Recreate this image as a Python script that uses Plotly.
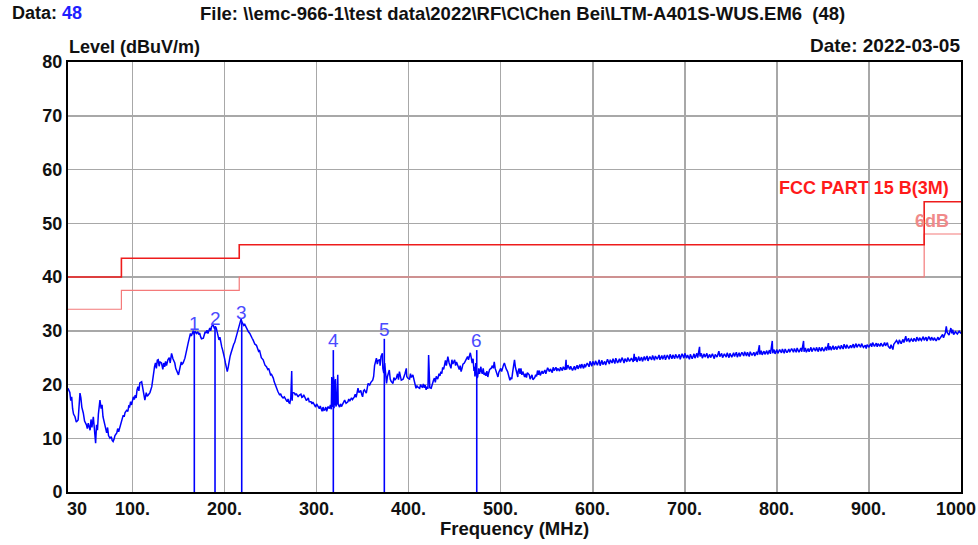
import plotly.graph_objects as go

# ---------------- data ----------------
trace_points = [
(30,19.3),(32,18.5),(33,17.0),(34,17.7),(35,15.5),(36,14.5),(37.6,14.0),(39,13.0),(41,13.4),(42,16.5),(43,18.4),(44,17.5),(45,15.8),(46.6,14.7),(48,13.2),(50,12.5),(51,11.8),(52,12.8),(54,11.5),(55,13.5),(56,12.0),(57.5,14.0),(58.5,12.0),(60,9.1),(61,12.5),(62,11.5),(63,14.5),(64.7,17.1),(66,15.5),(67,16.2),(68,14.0),(69,13.2),(70,12.0),(72,11.0),(73,12.0),(74,10.5),(75.6,10.0),(77,10.3),(78,9.6),(79,9.4),(80,9.8),(81,10.5),(83,11.0),(84,11.8),(85,11.2),(86.4,12.2),(88,13.0),(90,14.3),(91,14.0),(92,14.8),(93.7,15.2),(95,15.0),(96,16.0),(97,15.9),(98,16.8),(99,16.2),
(101,17.7),(102,17.2),(103,18.0),(104,17.5),(105,19.0),(106,19.6),(107,18.8),(108,20.3),(110,20.5),(111,19.5),(112,18.6),(113.5,17.1),(115,18.5),(116,17.8),(117,18.0),(119,18.5),(121,19.6),(122,21.0),(123,22.0),(124,23.3),(125,24.0),(126,23.0),(127,24.5),(128,24.6),(129,23.4),(130,24.2),(131.6,24.0),(133,22.8),(134,24.0),(135,23.3),(136,24.3),(137,23.5),(138.5,24.6),(140,25.0),(141,24.0),(142.5,25.8),(144,24.8),(145,24.3),(146,24.0),(147,23.0),(148,22.5),(149,22.0),(150,21.8),(151,22.6),(152,23.5),(153,24.2),(154,23.8),(155,24.0),(157,24.9),(158,25.5),(159,26.5),(160.5,27.7),(162,28.8),(163,29.5),(164,29.0),(165,29.8),(166,30.0),(167,29.3),(168,29.9),(169.6,29.5),(171,29.8),(172,29.3),(173,29.6),(174,28.9),(175,28.5),(177,28.6),(178,29.4),(179,29.8),(180,29.6),(181,30.1),(182,29.5),(184,30.5),(185,30.0),(186,30.8),(187.6,31.1),(189,30.4),(190,30.8),(191,30.5),(192,29.8),(193,28.8),(194,28.3),(195,28.8),(196,27.5),(197,27.0),(198,26.4),(199,25.8),
(200,24.9),(201,24.0),(202,23.0),(203,22.4),(204,23.2),(205,24.5),(206,25.2),(207,25.8),(208,26.5),(209,27.0),(210,27.5),(211,27.8),(212,28.5),(213,28.9),(214,29.8),(215,30.6),(216.6,31.7),(218,32.2),(219,31.6),(220,31.4),(221,31.0),(222,31.2),(224,30.5),(225,30.0),(226,29.8),(227.5,29.5),(229,28.8),(230,28.6),(231,28.3),(232,27.9),(233,27.5),(234.7,27.3),(236,26.8),(237,26.2),(238,26.4),(239,25.6),(240,25.0),(242,24.6),(243,24.0),(244,23.6),(245.6,23.3),(247,22.8),(248,23.0),(249,22.4),(250,21.8),(251,21.9),(253,21.2),(254,20.5),(255,20.0),(256,19.6),(257,19.2),(258,18.7),(260,18.0),(261,18.3),(262,17.8),(263.6,17.5),(265,17.7),(266,17.2),(267,17.1),(268,16.8),(269,17.3),(270,16.6),(271,16.5),(272,17.5),(273,22.5),(273.5,17.0),(274,18.5),(276,18.4),(277,18.0),(278,18.3),(280,17.7),(281,18.0),(283,18.2),(284,17.6),(285,17.7),(286,18.1),(288,17.5),(289,17.0),(291,17.5),(292,16.8),(294,16.8),(295,16.4),(296,16.7),(298,16.2),(299,15.8),
(300,16.4),(301.6,15.9),(303,15.5),(304,16.0),(305,15.6),(306,15.0),(307,15.8),(308,15.2),(309,15.3),(310,15.8),(311,15.0),(312.5,15.9),(314,15.5),(315,16.2),(316,15.4),(316.5,21.4),(317,15.8),(317.5,21.2),(318,16.0),(318.5,21.5),(319,15.6),(319.5,20.8),(320,16.2),(320.5,21.0),(321,15.9),(322,16.5),(323,21.8),(323.5,16.3),(325,15.8),(326,16.4),(327,15.9),(329,16.6),(330.5,17.1),(332,16.5),(334,16.8),(335,17.3),(336,16.9),(338,17.5),(339,17.2),(341,17.7),(342,18.2),(343,17.6),(345,19.3),(346,18.5),(348,18.9),(349,18.2),(350,17.7),(351,18.8),(352,19.0),(354,18.4),(355,19.6),(356,20.2),(357.7,19.9),(359,20.4),(361,20.8),(362,21.5),(363,23.5),(365,24.9),(366,23.8),(367,24.5),(368.6,24.6),(369,23.5),(370,25.2),(371.5,25.8),(372,23.0),(373,22.1),(374,24.0),(375,21.5),(376,20.2),(377,21.5),(378,22.0),(379,22.7),(380,21.0),(381,20.6),(383,20.2),(384,21.3),(385,20.8),(386.6,21.2),(388,22.0),(389,20.9),(390,22.4),(391,21.5),(392,20.8),(394,21.0),(395,21.8),(396,22.0),(397.5,23.0),(398,21.5),(399,21.2),
(401,21.0),(402,22.0),(403,21.3),(404.6,21.8),(406,20.5),(407,20.0),(408,19.3),(409,19.8),(410,19.5),(412,19.3),(413,20.0),(414,19.6),(415,19.5),(416,20.1),(417,19.4),(418,19.9),(419,19.0),(420,19.6),(421,19.2),(421.7,25.5),(422.2,19.6),(423,19.4),(424.5,19.3),(426,20.4),(427,20.8),(428,21.2),(429,20.4),(430,21.5),(431.6,21.0),(433,22.0),(434,21.6),(435,22.4),(436,22.0),(437,23.2),(438,22.8),(439,23.6),(440,24.5),(441,23.5),(442.6,25.2),(444,24.0),(445,23.3),(446,23.0),(447,24.6),(448,23.8),(450,24.6),(451,23.5),(452,24.2),(453.5,23.3),(455,22.8),(456,23.5),(457,22.4),(458,23.0),(459,23.8),(460.5,24.0),(462,24.5),(463,25.0),(464,25.2),(465,24.6),(466,25.5),(467,25.9),(468,25.0),(469,24.0),(470,24.8),(471,22.5),(471.6,23.3),(472,21.5),(473,24.0),(474,21.2),(475,21.4),(476,23.0),(477,22.0),(478.5,23.3),(479,22.5),(480,22.0),(481,23.0),(482,21.8),(483,22.2),(484,21.6),(485,22.5),(486,21.4),(487,22.2),(488,22.8),(489.6,23.0),(491,23.5),(492,23.0),(493,24.2),(494,23.0),(495,22.5),(496,22.0),(497,21.4),(498,22.3),(499,22.8),
(500,23.0),(501,22.4),(502,23.2),(503,23.6),(504,24.0),(505,23.4),(506,22.9),(507.5,22.4),(509,21.6),(510,20.8),(511,21.2),(512,21.0),(513,22.3),(514,23.5),(515,24.6),(516,23.2),(517,22.5),(518.6,21.4),(519,22.5),(520,23.0),(521,22.0),(522,23.0),(523,21.8),(524,22.4),(526,21.4),(527,22.0),(528,21.3),(529,22.2),(531,21.8),(532,21.0),(534,21.8),(535,20.9),(537,21.3),(538,21.8),(539,21.5),(540,22.6),(541,21.8),(542,22.6),(543,21.7),(545,22.5),(546,22.0),(548,22.7),(549,22.0),(550,22.6),(551,23.1),(553,22.4),(554,22.9),(556,22.2),(557,23.2),(558,22.6),(560,23.2),(561,22.5),(562,23.0),(564,22.5),(565,23.2),(567,22.6),(568,23.3),(570,22.7),(571,24.6),(571.5,22.8),(573,23.6),(575,22.8),(576,23.4),(578,22.6),(580,23.4),(581,22.7),(583,23.6),(584,22.9),(586,23.7),(587,23.0),(588,23.8),(590,23.0),(591,23.8),(592,23.2),(594,24.0),(596,23.3),(597,24.3),(599,23.4),
(600,24.3),(602,23.6),(603,24.4),(605,23.6),(607,24.6),(608,23.5),(610,24.5),(611,23.7),(613,24.3),(614,23.6),(616,24.7),(618,23.8),(619,24.6),(621,24.0),(622,24.8),(624,23.9),(625,24.9),(627,24.0),(629,24.8),(630,24.1),(632,25.0),(634,24.0),(635,24.8),(637,24.2),(638,25.0),(640,24.3),(642,24.9),(644,24.2),(645,25.7),(645.5,24.4),(647,25.1),(648,24.2),(650,25.2),(651,24.4),(653,25.1),(654,24.3),(656,25.2),(657,24.5),(659,25.3),(660,24.4),(662,25.2),(664,24.6),(665,25.4),(667,24.5),(668,25.3),(670,24.7),(672,25.5),(673,24.6),(675,25.4),(676,24.7),(678,25.5),(679,24.6),(681,25.5),(683,24.7),(684,25.6),(686,24.8),(687,25.5),(689,24.8),(690,25.6),(692,24.9),(694,25.6),(695,24.7),(697,25.7),(699,24.9),
(700,25.8),(702,24.9),(703,25.5),(705,24.7),(706,25.6),(708,24.8),(710,25.7),(711,24.9),(713,25.8),(714,25.0),(716,27.0),(716.5,25.2),(718,25.8),(719,24.9),(721,25.7),(722,25.1),(724,25.8),(725,24.9),(727,25.6),(728,25.0),(730,25.7),(732,24.8),(733,25.6),(735,25.1),(737,26.2),(738,25.2),(740,25.8),(741,25.0),(743,25.7),(745,25.1),(746,25.9),(748,25.0),(749,25.8),(751,25.1),(753,25.9),(754,25.2),(756,26.0),(757,25.1),(759,25.9),(760,25.2),(762,26.0),(764,25.3),(765,26.1),(767,25.3),(768,26.0),(770,25.2),(771,26.1),(773,25.4),(775,26.0),(776,25.3),(778,26.1),(779,25.5),(781,27.3),(781.5,25.6),(783,26.3),(784,25.5),(786,26.2),(787,25.6),(789,26.3),(790,25.6),(792,26.4),(793,25.7),(795,28.1),(795.5,25.8),(797,26.5),(798,25.7),
(800,26.5),(801,25.8),(803,26.5),(805,25.9),(806,26.6),(808,25.8),(809,26.6),(811,25.9),(813,26.6),(814,26.0),(816,26.7),(818,26.0),(819,26.7),(821,26.0),(822,26.8),(824,26.0),(826,26.8),(827,26.1),(829,28.1),(829.5,26.1),(831,26.8),(832,26.0),(834,26.7),(835,26.1),(837,26.9),(838,26.1),(840,26.8),(842,26.2),(843,26.9),(845,26.1),(846,26.9),(848,26.2),(849,26.9),(851,26.2),(853,27.0),(854,26.3),(856,27.7),(856.5,26.4),(858,27.1),(859,26.4),(861,27.2),(862,26.5),(864,27.1),(865,26.5),(867,27.2),(869,26.6),(870,27.3),(872,26.6),(873,27.5),(875,26.7),(876,27.4),(878,26.7),(880,27.3),(881,26.8),(883,27.5),(884,26.8),(886,27.6),(887,26.9),(889,27.5),(891,26.9),(892,27.6),(894,26.9),(896,27.3),(897,26.7),(898,27.4),
(900,27.0),(902,27.6),(903,27.0),(904,27.8),(906,27.1),(908,27.7),(909,27.0),(910,27.6),(912,27.1),(913,27.7),(915,27.1),(917,27.8),(918,27.2),(920,27.8),(921,27.1),(923,26.7),(924,27.4),(926,26.5),(927,27.5),(929,27.9),(930,28.2),(932,27.5),(933,28.3),(935,27.6),(937,28.4),(938,27.8),(940,29.0),(941,28.0),(943,28.6),(944,27.9),(946,28.5),(948,28.0),(949,28.6),(951,28.0),(952,28.8),(954,28.1),(955,28.7),(957,28.2),(959,28.9),(960,28.2),(962,28.8),(963,28.1),(965,28.9),(967,28.2),(968,28.8),(970,28.2),(971,28.7),(973,28.1),(975,28.8),(976,28.3),(978,28.9),(980,29.3),(981,28.7),(983,29.6),(984,30.8),(985,29.7),(987,29.2),(988,29.9),(989,30.5),(990,29.5),(991,30.2),(992,29.3),(994,29.8),(996,29.4),(998,29.9),(1000,29.5),
]
freq_mhz = [p[0] for p in trace_points]
level_dbuv = [p[1] for p in trace_points]

limit_freq = [30, 88, 216, 960, 1000]
limit_level = [40, 43.5, 46, 54, 54]
margin_level = [34, 37.5, 40, 48, 48]

marker_ids = ["1", "2", "3", "4", "5", "6"]
marker_freq = [167.2, 189.7, 218.7, 318.2, 373.6, 474.0]
marker_level = [29.6, 30.5, 31.6, 26.4, 28.5, 26.4]

x_tick_vals = [30, 100, 200, 300, 400, 500, 600, 700, 800, 900, 1000]
x_tick_text = ["30", "100.", "200.", "300.", "400.", "500.", "600.", "700.", "800.", "900.", "1000"]
y_tick_vals = [0, 10, 20, 30, 40, 50, 60, 70, 80]

# ---------------- layout geometry (page pixels) ----------------
W, H = 978, 545
L, R, T, B = 68, 961, 62, 492  # plot area in page pixels

def px(xp):
    return (xp - L) / (R - L)

def py(yp):
    return (B - yp) / (B - T)

FONT = "Liberation Sans"
TXT = "#111111"

fig = go.Figure()

mx, my = [], []
for f, lv in zip(marker_freq, marker_level):
    mx += [f, f, None]
    my += [0, lv, None]

fig.add_trace(go.Scatter(x=mx, y=my, mode="lines", line=dict(color="#0000ff", width=1.6),
                         hoverinfo="skip", showlegend=False))
fig.add_trace(go.Scatter(x=limit_freq, y=margin_level, mode="lines", line_shape="hv",
                         line=dict(color="#f47a7a", width=1.2), showlegend=False))
fig.add_trace(go.Scatter(x=limit_freq, y=limit_level, mode="lines", line_shape="hv",
                         line=dict(color="#ee1c1c", width=1.6), showlegend=False))
fig.add_trace(go.Scatter(x=freq_mhz, y=level_dbuv, mode="lines",
                         line=dict(color="#0000ff", width=1.5), showlegend=False))

annotations = []
for mid, f, lv in zip(marker_ids, marker_freq, marker_level):
    annotations.append(dict(x=f, y=lv, xref="x", yref="y", text=mid, showarrow=False,
                            xanchor="center", yanchor="bottom", yshift=-3,
                            font=dict(family=FONT, size=19, color="#4b4bff")))

for v, t in zip(x_tick_vals, x_tick_text):
    shift = 0
    if v == 30:
        shift = 9
    elif v == 1000:
        shift = -5
    annotations.append(dict(x=v, y=py(509), xref="x", yref="paper", text=t, showarrow=False,
                            xanchor="center", yanchor="middle", xshift=shift,
                            font=dict(family=FONT, size=18, color=TXT, weight="bold")))

hdr = dict(family=FONT, size=18, color=TXT, weight="bold")
annotations += [
    dict(x=px(10), y=py(13), xref="paper", yref="paper", xanchor="left", yanchor="middle",
         text="Data: <span style='color:#1f1fff'>48</span>", showarrow=False, font=hdr),
    dict(x=px(198), y=py(13), xref="paper", yref="paper", xanchor="left", yanchor="middle",
         text="File: \\\\emc-966-1\\test data\\2022\\RF\\C\\Chen Bei\\LTM-A401S-WUS.EM6  (48)",
         showarrow=False, font=dict(family=FONT, size=18.5, color=TXT, weight="bold")),
    dict(x=px(67), y=py(47), xref="paper", yref="paper", xanchor="left", yanchor="middle",
         text="Level (dBuV/m)", showarrow=False, font=hdr),
    dict(x=px(962), y=py(45), xref="paper", yref="paper", xanchor="right", yanchor="middle",
         text="Date: 2022-03-05", showarrow=False, font=dict(family=FONT, size=19, color=TXT, weight="bold")),
    dict(x=px(514), y=py(528), xref="paper", yref="paper", xanchor="center", yanchor="middle",
         text="Frequency (MHz)", showarrow=False, font=dict(family=FONT, size=18.5, color=TXT, weight="bold")),
    dict(x=px(951), y=py(188), xref="paper", yref="paper", xanchor="right", yanchor="middle",
         text="FCC PART 15 B(3M)", showarrow=False,
         font=dict(family=FONT, size=18, color="#ff1a1a", weight="bold")),
    dict(x=px(951), y=py(221), xref="paper", yref="paper", xanchor="right", yanchor="middle",
         text="6dB", showarrow=False,
         font=dict(family=FONT, size=18, color="#f08a8a", weight="bold")),
]

fig.update_layout(
    width=W, height=H,
    margin=dict(l=L, r=W - R, t=T, b=H - B, pad=0),
    paper_bgcolor="white", plot_bgcolor="white",
    annotations=annotations,
    showlegend=False,
    hovermode=False,
    xaxis=dict(range=[30, 1000], tickvals=x_tick_vals, showticklabels=False, ticks="",
               showgrid=True, gridcolor="#a8a8a8", gridwidth=1.5, zeroline=False,
               showline=True, linecolor="#000000", linewidth=2, mirror=True),
    yaxis=dict(range=[0, 80], tickvals=y_tick_vals, ticks="",
               tickfont=dict(family=FONT, size=18, color=TXT, weight="bold"),
               ticklabelstandoff=0,
               showgrid=True, gridcolor="#a8a8a8", gridwidth=1.5, zeroline=False,
               showline=True, linecolor="#000000", linewidth=2, mirror=True),
)

fig.write_html(
    "out.html",
    config={"displayModeBar": False, "staticPlot": True},
    post_script="document.body.style.margin='0';document.body.style.overflow='hidden';",
)
